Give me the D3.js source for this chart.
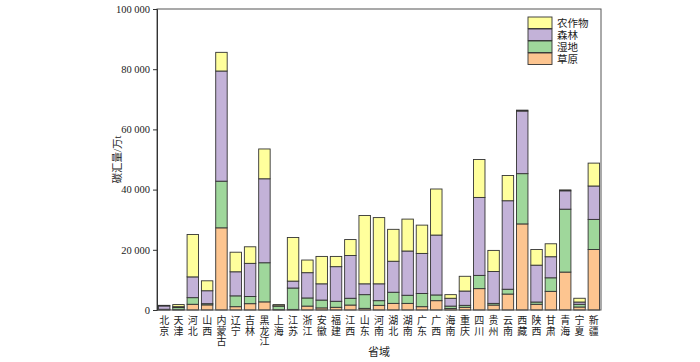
<!DOCTYPE html>
<html>
<head>
<meta charset="utf-8">
<script src="https://cdn.jsdelivr.net/npm/d3@7"></script>
<style>
  body { margin: 0; background: #fff; }
  text { font-family: "Liberation Serif", "Noto Sans CJK SC", serif; fill: #222; }
</style>
</head>
<body>
<div id="chart"></div>
<script>
var width = 700, height = 362;

// provinces along the x axis
var provinces = ["北京","天津","河北","山西","内蒙古","辽宁","吉林","黑龙江","上海","江苏","浙江","安徽","福建","江西","山东","河南","湖北","湖南","广东","广西","海南","重庆","四川","贵州","云南","西藏","陕西","甘肃","青海","宁夏","新疆"];

// carbon sink by type (万t), stacked bottom to top
var grassland = [100, 100, 1900, 1700, 27300, 1100, 2100, 2700, 100, 200, 1300, 700, 900, 1650, 550, 1550, 2200, 2200, 1100, 3100, 500, 900, 7100, 1650, 5300, 28600, 1900, 6200, 12600, 1000, 20100];
var wetland = [150, 700, 2200, 400, 15500, 3600, 2400, 13000, 1200, 7100, 2700, 2600, 2000, 2250, 4550, 1550, 3700, 2700, 4400, 1900, 800, 650, 4400, 550, 1600, 16700, 750, 4500, 20900, 900, 10000];
var forest = [1100, 300, 6900, 4300, 36600, 8000, 11000, 27900, 100, 2300, 8400, 5400, 11500, 14200, 3600, 5600, 10300, 14700, 13300, 19900, 2600, 4750, 25900, 10600, 29400, 20800, 12250, 7000, 6100, 750, 11100];
var crop = [200, 700, 14100, 3300, 6200, 6500, 5500, 9900, 400, 14500, 4200, 9100, 3400, 5300, 22700, 22000, 10600, 10600, 9400, 15300, 1200, 4900, 12600, 7000, 8400, 300, 5200, 4300, 300, 1250, 7600];

var seriesNames = ["草原", "湿地", "森林", "农作物"];
var seriesColors = ["#fdc590", "#9fd79b", "#c3b2d8", "#ffff9c"];
var yTicks = [0, 20000, 40000, 60000, 80000, 100000];

var rows = provinces.map(function(p, i) {
  return { name: p, "草原": grassland[i], "湿地": wetland[i], "森林": forest[i], "农作物": crop[i] };
});

var margin = { left: 157, right: 99, top: 9, bottom: 52 };
var x0 = margin.left, x1 = width - margin.right;
var y0 = height - margin.bottom, y1 = margin.top;

var svg = d3.select("#chart").append("svg").attr("width", width).attr("height", height);

var x = d3.scaleBand().domain(provinces).range([x0, x1]).paddingInner(0.2).paddingOuter(0.1);
var y = d3.scaleLinear().domain([0, 100000]).range([y0, y1]);

var stacked = d3.stack().keys(seriesNames)(rows);

// bars
svg.append("g").selectAll("g")
  .data(stacked)
  .join("g")
  .attr("fill", function(d, i) { return seriesColors[i]; })
  .selectAll("rect")
  .data(function(d) { return d; })
  .join("rect")
  .attr("x", function(d) { return x(d.data.name); })
  .attr("width", x.bandwidth())
  .attr("y", function(d) { return y(d[1]); })
  .attr("height", function(d) { return y(d[0]) - y(d[1]); })
  .attr("stroke", "#333")
  .attr("stroke-width", 0.9);

// frame
svg.append("rect")
  .attr("x", x0).attr("y", y1)
  .attr("width", x1 - x0).attr("height", y0 - y1)
  .attr("fill", "none").attr("stroke", "#555").attr("stroke-width", 1);

// y axis
var fmt = function(v) { return d3.format(",")(v).replace(/,/g, " "); };
var yAxis = svg.append("g")
  .attr("transform", "translate(" + x0 + ",0)")
  .call(d3.axisLeft(y).tickValues(yTicks).tickSize(4).tickPadding(3).tickFormat(fmt));
yAxis.select(".domain").attr("stroke", "#333");
yAxis.selectAll(".tick line").attr("stroke", "#333");
yAxis.selectAll("text").attr("font-size", 10.5).attr("font-family", "Liberation Serif").attr("fill", "#222");

// x labels, characters stacked vertically
svg.append("g").selectAll("text")
  .data(provinces)
  .join("text")
  .attr("text-anchor", "middle")
  .attr("font-size", 10)
  .each(function(p) {
    var t = d3.select(this);
    var cx = x(p) + x.bandwidth() / 2;
    p.split("").forEach(function(ch, k) {
      t.append("tspan").attr("x", cx).attr("y", y0 + 14 + k * 10.5).text(ch);
    });
  });

// axis titles
svg.append("text")
  .attr("x", (x0 + x1) / 2).attr("y", y0 + 46)
  .attr("text-anchor", "middle").attr("font-size", 11)
  .text("省域");

svg.append("text")
  .attr("transform", "translate(" + 121 + "," + ((y0 + y1) / 2) + ") rotate(-90)")
  .attr("text-anchor", "middle").attr("font-size", 10.5)
  .text("碳汇量/万t");

// legend
var legend = svg.append("g").attr("transform", "translate(528,17)");
var legendOrder = [3, 2, 1, 0];
legendOrder.forEach(function(si, k) {
  var g = legend.append("g").attr("transform", "translate(0," + (k * 12) + ")");
  g.append("rect").attr("width", 24).attr("height", 11.5)
    .attr("fill", seriesColors[si]).attr("stroke", "#333").attr("stroke-width", 0.9);
  g.append("text").attr("x", 29).attr("y", 9.5).attr("font-size", 10.5).text(seriesNames[si]);
});
</script>
</body>
</html>
